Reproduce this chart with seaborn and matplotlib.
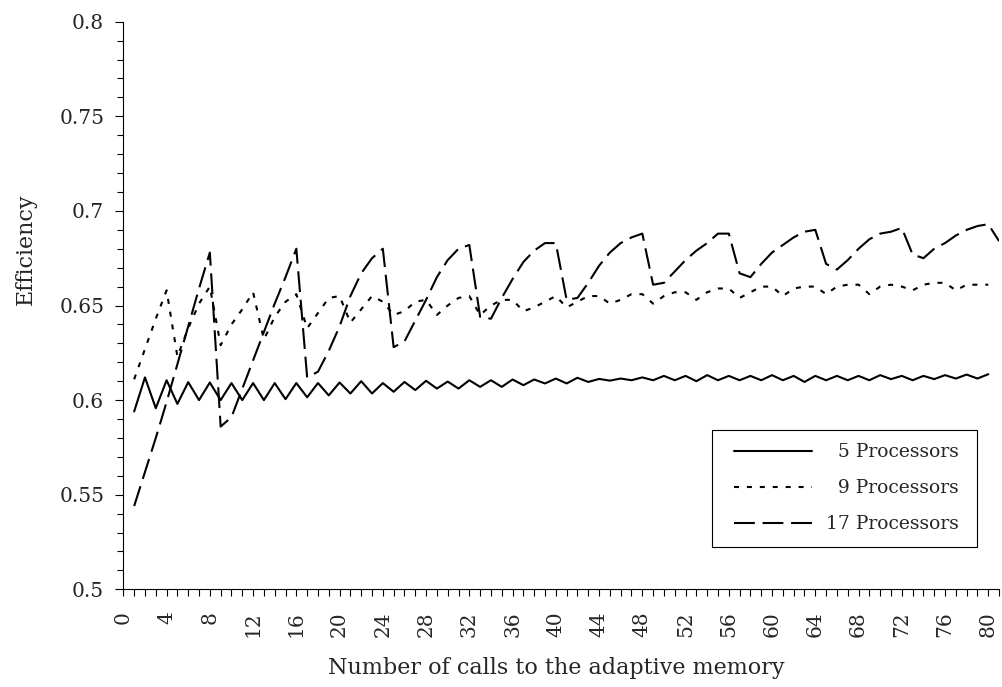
import matplotlib
matplotlib.use("Agg")
import matplotlib.pyplot as plt
import matplotlib.ticker as mticker
from matplotlib.legend_handler import HandlerLine2D
from matplotlib.lines import Line2D
import numpy as np
import pandas as pd
import seaborn as sns

# ---------------- data ----------------
proc5 = [0.594, 0.612, 0.5957, 0.6105, 0.598, 0.6095, 0.600, 0.6093, 0.600, 0.609,
         0.600, 0.609, 0.600, 0.609, 0.6005, 0.609, 0.6015, 0.609, 0.6025, 0.6093,
         0.6035, 0.610, 0.6035, 0.609, 0.6044, 0.6096, 0.6053, 0.6102, 0.6061, 0.6098,
         0.6061, 0.6105, 0.607, 0.6105, 0.607, 0.6109, 0.6079, 0.6109, 0.6088, 0.6114,
         0.6088, 0.6118, 0.6096, 0.6112, 0.6103, 0.6114, 0.6105, 0.612, 0.6105, 0.6128,
         0.6105, 0.6128, 0.610, 0.6132, 0.6105, 0.6128, 0.6105, 0.6128, 0.6105, 0.6132,
         0.6105, 0.6128, 0.6096, 0.6128, 0.6105, 0.6128, 0.6105, 0.6128, 0.6105, 0.6132,
         0.6111, 0.6128, 0.6105, 0.6128, 0.6111, 0.6132, 0.6114, 0.6135, 0.6114, 0.6137]

proc9 = [0.611, 0.627, 0.643, 0.658, 0.623, 0.638, 0.651, 0.660,
         0.629, 0.640, 0.648, 0.657, 0.632, 0.644, 0.652, 0.656,
         0.638, 0.646, 0.654, 0.655, 0.641, 0.648, 0.655, 0.652,
         0.645, 0.647, 0.652, 0.653, 0.645, 0.650, 0.654, 0.655,
         0.645, 0.650, 0.653, 0.653, 0.647, 0.649, 0.652, 0.655,
         0.649, 0.652, 0.655, 0.655, 0.651, 0.653, 0.656, 0.656,
         0.651, 0.655, 0.657, 0.657, 0.653, 0.657, 0.659, 0.659,
         0.654, 0.657, 0.660, 0.660, 0.655, 0.659, 0.660, 0.660,
         0.656, 0.660, 0.661, 0.661, 0.656, 0.660, 0.661, 0.660,
         0.658, 0.661, 0.662, 0.662, 0.658, 0.661, 0.661, 0.661]

proc17 = [0.544, 0.562, 0.580, 0.599, 0.619, 0.639, 0.659, 0.678,
          0.586, 0.591, 0.606, 0.621, 0.636, 0.651, 0.665, 0.680,
          0.612, 0.615, 0.626, 0.639, 0.655, 0.667, 0.675, 0.680,
          0.628, 0.631, 0.642, 0.653, 0.665, 0.674, 0.680, 0.682,
          0.644, 0.643, 0.654, 0.664, 0.673, 0.679, 0.683, 0.683,
          0.653, 0.654, 0.662, 0.671, 0.678, 0.683, 0.686, 0.688,
          0.661, 0.662, 0.668, 0.674, 0.679, 0.683, 0.688, 0.688,
          0.667, 0.665, 0.672, 0.678, 0.682, 0.686, 0.689, 0.690,
          0.672, 0.669, 0.674, 0.680, 0.685, 0.688, 0.689, 0.691,
          0.677, 0.675, 0.680, 0.683, 0.687, 0.690, 0.692, 0.693,
          0.684]

series_names = ["5 Processors", "9 Processors", "17 Processors"]
legend_labels = ["\u20075 Processors\u2005", "\u20079 Processors\u2005", "17 Processors\u2005"]
xlabel = "Number of calls to the adaptive memory"
ylabel = "Efficiency"

frames = []
for name, vals in zip(series_names, [proc5, proc9, proc17]):
    frames.append(pd.DataFrame({"calls": np.arange(1, len(vals) + 1),
                                "eff": vals, "series": name}))
df = pd.concat(frames, ignore_index=True)

# ---------------- style ----------------
sns.set_style("ticks")
plt.rcParams["font.family"] = ["DejaVu Serif", "DejaVu Sans"]
plt.rcParams["axes.linewidth"] = 0.8

fig = plt.figure(figsize=(10.02, 6.87), dpi=100)
ax = fig.add_axes([0.1231, 0.1422, 0.874, 0.8262])

dash_map = {"5 Processors": "",
            "9 Processors": (2.4, 3.8),
            "17 Processors": (10, 3.7)}

sns.lineplot(data=df, x="calls", y="eff", style="series",
             style_order=series_names, dashes=dash_map,
             color="black", linewidth=1.5, legend=False, ax=ax)

ax.set_xlim(0, 81)
ax.set_ylim(0.5, 0.8)

ax.xaxis.set_major_locator(mticker.FixedLocator(list(range(0, 81, 4))))
ax.xaxis.set_minor_locator(mticker.MultipleLocator(1))
ax.yaxis.set_major_locator(mticker.MultipleLocator(0.05))
ax.yaxis.set_minor_locator(mticker.MultipleLocator(0.01))
ax.yaxis.set_major_formatter(mticker.FuncFormatter(
    lambda v, p: f"{v:.2f}".rstrip("0").rstrip(".")))

ax.tick_params(axis="x", which="both", direction="out", length=4.8, width=0.8,
               color="black", labelsize=14.5, pad=11, labelrotation=90)
ax.tick_params(axis="y", which="major", direction="out", length=5.8, width=0.8,
               color="black", labelsize=14.5, pad=8)
ax.tick_params(axis="y", which="minor", direction="out", length=4.3, width=0.8,
               color="black")

for s in ["top", "right"]:
    ax.spines[s].set_visible(False)
for s in ["left", "bottom"]:
    ax.spines[s].set_color("black")

ax.set_xlabel(xlabel, fontsize=16)
ax.set_ylabel(ylabel, fontsize=16)
ax.xaxis.set_label_coords(0.494, -0.119)
ax.yaxis.set_label_coords(-0.0986, 0.5996)


class InsetLineHandler(HandlerLine2D):
    """Legend line handler that leaves a blank margin before the sample line."""
    def __init__(self, lead, **kw):
        super().__init__(**kw)
        self.lead = lead

    def get_xdata(self, legend, xdescent, ydescent, width, height, fontsize):
        lead = self.lead * fontsize
        xdata = np.array([-xdescent + lead, -xdescent + width])
        return xdata, xdata


handles = ax.get_lines()[:3]
leg = ax.legend(handles=handles, labels=legend_labels, loc="upper right",
                bbox_to_anchor=(0.9749, 0.2807), borderaxespad=0, frameon=True,
                fancybox=False, edgecolor="black", framealpha=1, fontsize=13.5,
                handlelength=4.6, handletextpad=0.75, labelspacing=0.96,
                borderpad=0.72,
                handler_map={Line2D: InsetLineHandler(lead=0.45)})
leg.get_frame().set_linewidth(0.8)

fig.savefig("out.png", dpi=100, facecolor="white")
